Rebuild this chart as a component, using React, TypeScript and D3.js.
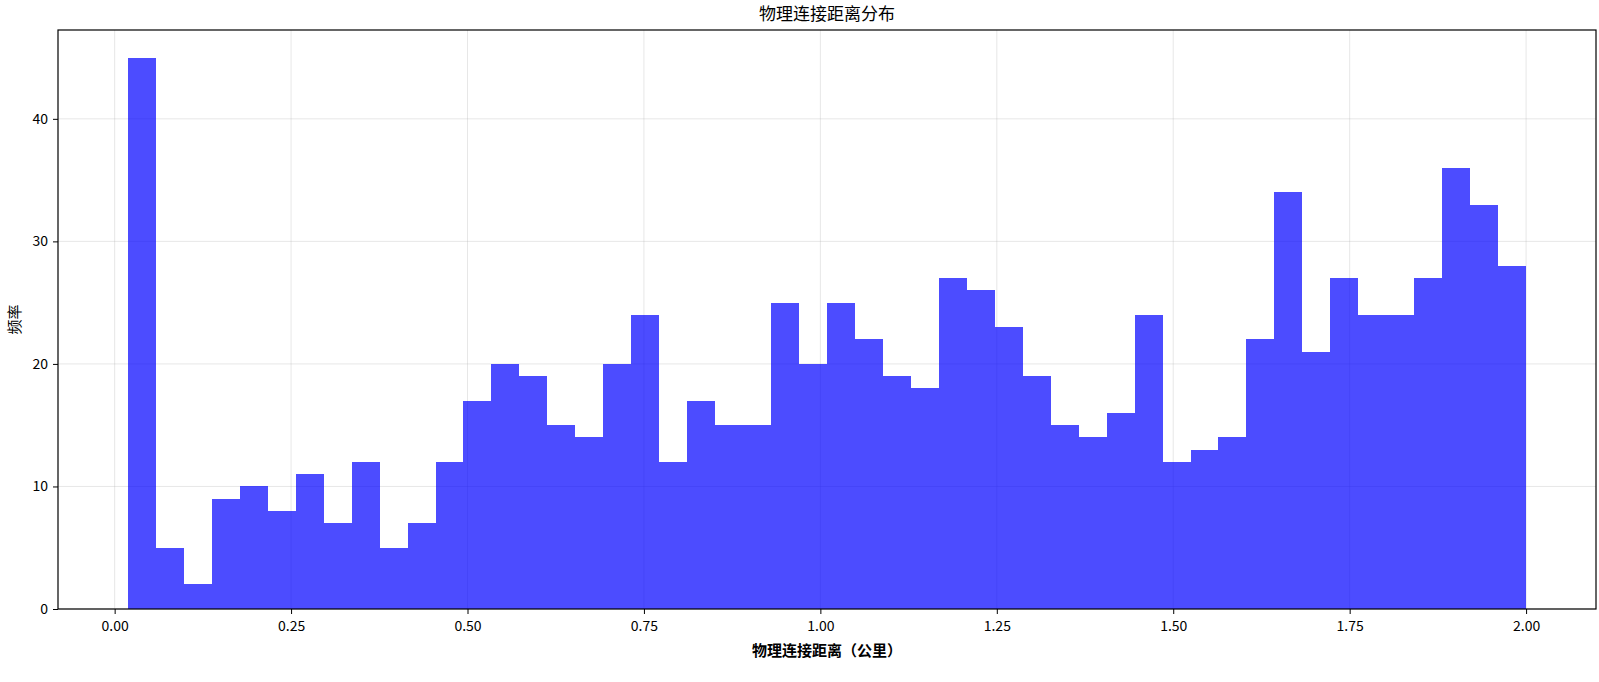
import React, { useEffect, useRef } from 'react';
import * as d3 from 'd3';

// histogram counts, 50 equal bins between binStart and binEnd
const binStart = 0.0188;
const binEnd = 2.0;
const counts = [
  45, 5, 2, 9, 10, 8, 11, 7, 12, 5,
  7, 12, 17, 20, 19, 15, 14, 20, 24, 12,
  17, 15, 15, 25, 20, 25, 22, 19, 18, 27,
  26, 23, 19, 15, 14, 16, 24, 12, 13, 14,
  22, 34, 21, 27, 24, 24, 27, 36, 33, 28,
];
const xTicks = [0, 0.25, 0.5, 0.75, 1.0, 1.25, 1.5, 1.75, 2.0];
const yTicks = [0, 10, 20, 30, 40];
const title = '物理连接距离分布';
const xLabel = '物理连接距离（公里）';
const yLabel = '频率';

const FONT = '"Noto Sans CJK SC", "DejaVu Sans", sans-serif';

export default function App() {
  const ref = useRef<SVGSVGElement>(null);

  useEffect(() => {
    document.body.style.margin = '0';
    const width = 1599;
    const height = 682;
    const margin = { top: 30, right: 3, bottom: 73, left: 58 };
    const innerW = width - margin.left - margin.right;
    const innerH = height - margin.top - margin.bottom;

    const svg = d3.select(ref.current);
    svg.selectAll('*').remove();
    svg.attr('width', width).attr('height', height);

    const binW = (binEnd - binStart) / counts.length;
    const bins = counts.map((c, i) => ({ x0: binStart + i * binW, x1: binStart + (i + 1) * binW, c }));

    // matplotlib-like 5% margins
    const span = binEnd - binStart;
    const x = d3.scaleLinear()
      .domain([binStart - span * 0.05, binEnd + span * 0.05])
      .range([0, innerW]);
    const yMax = d3.max(counts) || 0;
    const y = d3.scaleLinear()
      .domain([0, yMax * 1.05])
      .range([innerH, 0]);

    const g = svg.append('g').attr('transform', `translate(${margin.left},${margin.top})`);

    // grid
    g.append('g')
      .selectAll('line')
      .data(xTicks)
      .join('line')
      .attr('x1', d => x(d)).attr('x2', d => x(d))
      .attr('y1', 0).attr('y2', innerH)
      .attr('stroke', '#b0b0b0').attr('stroke-opacity', 0.3).attr('stroke-width', 1);
    g.append('g')
      .selectAll('line')
      .data(yTicks)
      .join('line')
      .attr('x1', 0).attr('x2', innerW)
      .attr('y1', d => y(d)).attr('y2', d => y(d))
      .attr('stroke', '#b0b0b0').attr('stroke-opacity', 0.3).attr('stroke-width', 1);

    // bars
    g.append('g')
      .attr('shape-rendering', 'crispEdges')
      .selectAll('rect')
      .data(bins)
      .join('rect')
      .attr('x', d => Math.round(x(d.x0)))
      .attr('width', d => Math.round(x(d.x1)) - Math.round(x(d.x0)))
      .attr('y', d => y(d.c))
      .attr('height', d => innerH - y(d.c))
      .attr('fill', 'rgb(0,0,255)')
      .attr('fill-opacity', 0.7);

    // frame
    g.append('rect')
      .attr('width', innerW).attr('height', innerH)
      .attr('fill', 'none').attr('stroke', '#000').attr('stroke-width', 1.2);

    const xAxis = g.append('g')
      .attr('transform', `translate(0,${innerH})`)
      .call(d3.axisBottom(x).tickValues(xTicks).tickFormat(d3.format('.2f')).tickSize(5).tickPadding(7));
    const yAxis = g.append('g')
      .call(d3.axisLeft(y).tickValues(yTicks).tickSize(5).tickPadding(5));
    [xAxis, yAxis].forEach(a => {
      a.select('.domain').remove();
      a.selectAll('text').attr('font-family', FONT).attr('font-size', 14).attr('fill', '#000');
      a.selectAll('line').attr('stroke', '#000');
    });

    svg.append('text')
      .attr('x', margin.left + innerW / 2).attr('y', 20)
      .attr('text-anchor', 'middle')
      .attr('font-family', FONT).attr('font-size', 17)
      .text(title);

    svg.append('text')
      .attr('x', margin.left + innerW / 2).attr('y', 656)
      .attr('text-anchor', 'middle')
      .attr('font-family', FONT).attr('font-size', 15).attr('font-weight', 'bold')
      .text(xLabel);

    svg.append('text')
      .attr('transform', `translate(20,${margin.top + innerH / 2}) rotate(-90)`)
      .attr('text-anchor', 'middle')
      .attr('font-family', FONT).attr('font-size', 15)
      .text(yLabel);
  }, []);

  return <svg ref={ref} style={{ display: 'block' }} />;
}
